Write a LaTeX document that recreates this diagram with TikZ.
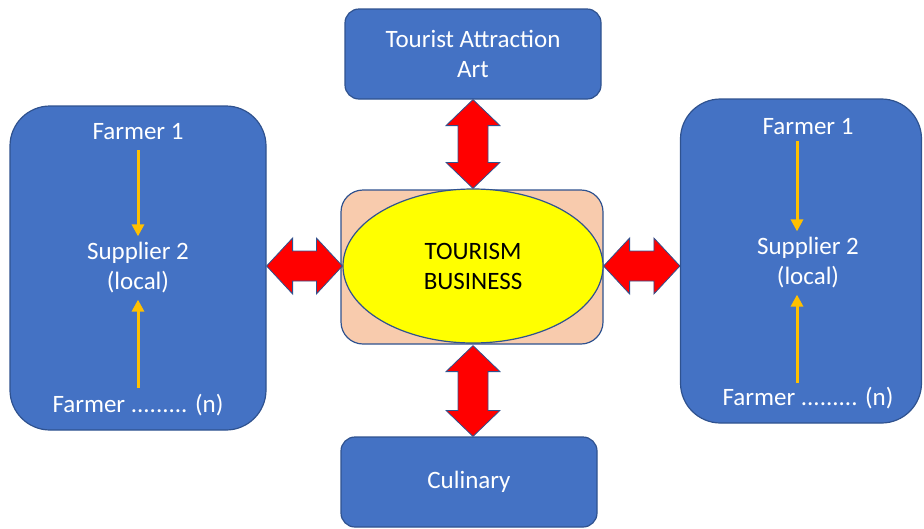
\documentclass[tikz,border=0pt]{standalone}
\usepackage{fontspec}
\setmainfont{Carlito}
\usetikzlibrary{shapes.geometric,calc,arrows.meta}
\definecolor{boxblue}{HTML}{4472C4}
\definecolor{edgeblue}{HTML}{2F528F}
\definecolor{peach}{HTML}{F8CBAD}
\definecolor{gold}{HTML}{FFC000}
\definecolor{yel}{HTML}{FFFF00}
\definecolor{bigred}{HTML}{FF0000}
\tikzset{
  bluebox/.style={draw=edgeblue, line width=1.2pt, fill=boxblue, text=white, align=center,
    font=\fontsize{25}{30}\selectfont, inner sep=0pt},
  wtext/.style={text=white, align=center, font=\fontsize{25}{30}\selectfont, inner sep=2pt},
  orangearrow/.style={draw=gold, line width=3pt, -{Triangle[width=12pt,length=12pt]}},
  redarrow/.style={draw=edgeblue, line width=0.8pt, fill=bigred, line join=miter},
}
\begin{document}
\begin{tikzpicture}[x=1pt,y=-1pt]
\useasboundingbox (0,0) rectangle (924,528);
% boxes
\node[bluebox, rounded corners=14pt, minimum width=256pt, minimum height=90pt] (top) at (473,54) {Tourist Attraction\\Art};
\node[bluebox, rounded corners=40pt, minimum width=256pt, minimum height=324pt] (left) at (138,268) {};
\node[bluebox, rounded corners=40pt, minimum width=241pt, minimum height=324pt] (right) at (801,261) {};
\node[bluebox, rounded corners=14pt, minimum width=256pt, minimum height=90pt] (cul) at (469,482) {Culinary};
\node[draw=edgeblue, line width=1.2pt, fill=peach, rounded corners=22pt, minimum width=262pt, minimum height=154pt] (core) at (472,267) {};
\node[ellipse, draw=edgeblue, line width=1.2pt, fill=yel, minimum width=260pt, minimum height=154pt, inner sep=0pt,
  align=center, font=\fontsize{25}{30}\selectfont] (ell) at (473,266) {TOURISM\\BUSINESS};
% left box contents
\node[wtext] (f1L) at (138,132) {Farmer 1};
\node[wtext] (supL) at (138,268) {Supplier 2\\(local)};
\node[wtext] (fnL) at (138,405) {Farmer ......... (n)};
\draw[orangearrow] ($(f1L.south)+(0,8)$) -- ($(supL.north)+(0,-4)$);
\draw[orangearrow] ($(fnL.north)+(0,-4)$) -- ($(supL.south)+(0,4)$);
% right box contents
\node[wtext] (f1R) at (808,127) {Farmer 1};
\node[wtext] (supR) at (808,263) {Supplier 2\\(local)};
\node[wtext] (fnR) at (808,398) {Farmer ......... (n)};
\draw[orangearrow] ($(f1R.south)+(-11,4)$) -- ($(supR.north)+(-11,-4)$);
\draw[orangearrow] ($(fnR.north)+(-11,-2)$) -- ($(supR.south)+(-11,4)$);
% red double arrows: vertical top
\draw[redarrow] (top.south)
  -- ++(27,26) -- ++(-12,0) -- ($(ell.north)+(15,-26)$) -- ++(12,0) -- (ell.north)
  -- ++(-27,-26) -- ++(12,0) -- ($(top.south)+(-15,26)$) -- ++(-12,0) -- cycle;
% vertical bottom
\draw[redarrow] ($(ell.south)+(0,2)$)
  -- ++(27,26) -- ++(-12,0) -- ($(cul.north)+(19,-26)$) -- ++(12,0) -- ($(cul.north)+(4,0)$)
  -- ++(-27,-26) -- ++(12,0) -- ($(ell.south)+(-15,28)$) -- ++(-12,0) -- cycle;
% horizontal left
\coordinate (lt) at (ell.west -| left.east);
\draw[redarrow] (lt)
  -- ++(26,-28) -- ++(0,13) -- ($(ell.west)+(-26,-15)$) -- ++(0,-13) -- (ell.west)
  -- ++(-26,28) -- ++(0,-13) -- ($(lt)+(26,15)$) -- ++(0,13) -- cycle;
% horizontal right
\coordinate (rt) at (ell.east -| right.west);
\draw[redarrow] (ell.east)
  -- ++(26,-28) -- ++(0,13) -- ($(rt)+(-26,-15)$) -- ++(0,-13) -- (rt)
  -- ++(-26,28) -- ++(0,-13) -- ($(ell.east)+(26,15)$) -- ++(0,13) -- cycle;
\end{tikzpicture}
\end{document}
